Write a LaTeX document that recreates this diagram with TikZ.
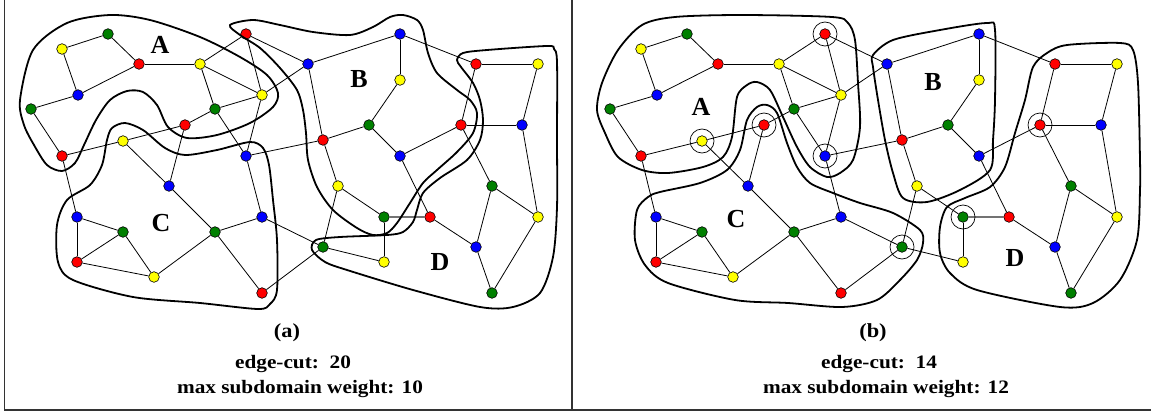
\documentclass[tikz,border=0pt]{standalone}
\usepackage{fontspec}
\setmainfont{Liberation Serif}
\setsansfont{Liberation Sans}
\definecolor{nR}{RGB}{255,0,0}
\definecolor{nY}{RGB}{255,255,0}
\definecolor{nG}{RGB}{0,128,0}
\definecolor{nB}{RGB}{0,0,255}
\tikzset{
  vtx/.style={circle,draw=black,line width=0.6pt,inner sep=0pt,minimum size=10.6pt},
  edge/.style={line width=0.8pt,black},
  grayedge/.style={line width=1.5pt,black!55},
  part/.style={line width=1.8pt,black},
  ring/.style={circle,draw=black,line width=0.7pt,inner sep=0pt,minimum size=24pt},
  plab/.style={font=\fontsize{26}{26}\selectfont\bfseries},
  captxt/.style={font=\fontsize{20}{20}\selectfont\bfseries,inner sep=0pt},
  capline/.style={font=\fontsize{19}{19}\selectfont\bfseries,inner sep=0pt},
  framestyle/.style={line width=1.3pt,black!80}
}
\newcommand\wide[1]{\scalebox{1.12}[1.0]{#1}}
\newcommand\mygraph[2]{%
  \foreach \n/\x/\y/\c in {a1/62/49/nY,a2/108/34/nG,a3/139/64/nR,a4/78/95/nB,a5/31/109/nG,
    a6/200/64/nY,a7/246/34/nR,a8/262/95/nY,a9/215/109/nG,a10/185/125/nR,a11/123/141/nY,
    a12/62/156/nR,a13/246/156/nB,b1/400/34/nB,b2/308/64/nB,b3/400/80/nY,b4/369/125/nG,
    b5/323/140/nR,b6/400/156/nB,b7/338/186/nY,b8/384/217/nG,c1/169/186/nB,c2/77/217/nB,
    c3/123/232/nG,c4/77/262/nR,c5/154/277/nY,c6/215/232/nG,c7/262/217/nB,c8/262/293/nR,
    d1/476/64/nR,d2/538/64/nY,d3/461/125/nR,d4/522/125/nB,d5/492/186/nG,d6/538/217/nY,
    d7/430/217/nR,d8/476/247/nB,d9/492/293/nG,d10/323/247/nG,d11/384/262/nY}
    {\node[vtx,fill=\c] (#1\n) at (\x+#2,\y) {};}
  \foreach \u/\v in {a1/a2,a2/a3,a1/a4,a3/a4,a4/a5,a3/a6,a5/a12,a6/a7,a6/a8,a6/a9,a7/a8,
    a7/b2,a8/b2,a8/a9,a9/a10,a9/a13,a8/a13,a12/a11,a11/a10,a10/c1,a11/c1,a12/c2,a13/b5,
    a13/c7,b2/b1,b2/b5,b1/b3,b1/d1,b3/b4,b4/b5,b4/b6,b6/d3,b5/b7,b7/b8,b7/d10,b6/d7,
    b8/d11,d10/d11,c7/d10,c8/d10,d1/d2,d1/d3,d2/d4,d3/d4,d3/d5,d4/d6,d5/d6,d5/d8,d7/d8,
    d8/d9,d6/d9,c1/c6,c2/c3,c2/c4,c3/c4,c3/c5,c4/c5,c5/c6,c6/c7,c6/c8}
    {\draw[edge] (#1\u) -- (#1\v);}
  \draw[grayedge] (#1b8) -- (#1d7);
}
\begin{document}
\begin{tikzpicture}[x=1pt,y=-1pt]
\useasboundingbox (0,0) rectangle (1151,412);
% frame
\coordinate (fTL) at (4.5,0);
\coordinate (fBL) at (4.5,410);
\coordinate (fBR) at (1151,410);
\coordinate (dT) at (572,0);
\coordinate (dB) at (572,410);
\draw[framestyle] (fTL) -- (fBL) -- (fBR);
\draw[framestyle] (dT) -- (dB);
% graphs
\mygraph{L}{0}
\mygraph{R}{579}
% left partition
\draw[part] plot[smooth cycle] coordinates {(20,100) (33,50) (67,23) (110,15) (150,20) (200,37)
  (240,57) (267,75) (278,93) (273,107) (250,123) (217,135) (187,138) (168,127) (157,105)
  (143,92) (127,91) (110,100) (96,120) (84,145) (75,163) (62,171) (47,165) (34,145) (24,125)};
\draw[part] plot[smooth cycle] coordinates {(107,140) (112,128) (125,123) (143,130) (165,148)
  (185,155) (217,150) (250,142) (263,148) (269,165) (273,200) (277,240) (277,290) (270,304)
  (258,309) (200,303) (133,297) (73,280) (58,262) (57,225) (67,200) (90,185) (102,165)};
\draw[part] plot[smooth cycle] coordinates {(230,25) (253,20) (280,25) (313,32) (350,35)
  (373,27) (390,17) (403,15) (417,20) (423,30) (428,53) (437,73) (457,90) (470,100)
  (477,113) (473,133) (457,152) (437,170) (423,183) (410,203) (397,223) (387,233) (373,235)
  (357,228) (333,210) (317,187) (308,160) (306,133) (303,110) (297,90) (280,68) (260,48) (240,35)};
\draw[part] plot[smooth cycle] coordinates {(457,60) (463,53) (487,50) (547,46) (554,49)
  (557,62) (557,140) (557,207) (553,257) (540,293) (513,307) (480,307) (413,290) (347,270)
  (325,262) (312,250) (316,240) (340,237) (387,235) (403,232) (413,222) (417,210) (423,193)
  (440,178) (467,160) (480,140) (483,120) (480,100) (473,83) (461,67)};
% right partition
\draw[part] plot[smooth cycle] coordinates {(642,25) (675,17) (742,15) (832,17) (848,23)
  (855,40) (858,83) (860,127) (853,160) (840,173) (827,177) (810,167) (797,147) (783,117)
  (770,90) (757,82) (747,85) (737,97) (732,137) (723,157) (703,167) (668,173) (642,170)
  (618,157) (605,133) (597,110) (602,83) (618,50)};
\draw[part] plot[smooth cycle] coordinates {(660,192) (700,183) (727,170) (740,150) (747,120)
  (757,107) (767,105) (777,113) (787,143) (797,167) (810,183) (833,193) (860,203) (893,213)
  (920,230) (923,243) (917,260) (900,280) (877,300) (842,307) (788,303) (735,300) (668,283)
  (645,265) (635,240) (637,210) (648,197)};
\draw[part] plot[smooth cycle] coordinates {(873,55) (893,40) (940,30) (987,23) (995,30)
  (995,100) (993,140) (990,170) (960,190) (927,202) (903,198) (893,173) (885,140) (878,100) (873,67)};
\draw[part] plot[smooth cycle] coordinates {(1033,67) (1047,53) (1067,45) (1120,43) (1133,50)
  (1138,83) (1140,160) (1140,190) (1137,240) (1120,280) (1093,303) (1060,307) (977,290)
  (950,273) (940,253) (940,227) (947,207) (965,198) (990,187) (1005,167) (1015,133) (1025,100)};
% rings (b)
\foreach \n in {a7,a11,a10,a13,d3,b8,d10} {\node[ring] (ring\n) at (R\n) {};}
% labels
\node[plab] (lA) at (160,45) {A};
\node[plab] (lB) at (359,79) {B};
\node[plab] (lC) at (161,223) {C};
\node[plab] (lD) at (440,262) {D};
\node[plab] (rA) at (701,107) {A};
\node[plab] (rB) at (933,82) {B};
\node[plab] (rC) at (736,219) {C};
\node[plab] (rD) at (1015,258) {D};
% captions
\node[captxt] (capa) at (287,333) {\wide{(a)}};
\node[capline] (ecA) at (293,364.5) {\wide{edge-cut:\ \ 20}};
\node[capline] (mwA) at (300,389.5) {\wide{max subdomain weight: 10}};
\node[captxt] (capb) at (873,333) {\wide{(b)}};
\node[capline] (ecB) at (879,364.5) {\wide{edge-cut:\ \ 14}};
\node[capline] (mwB) at (886,389.5) {\wide{max subdomain weight: 12}};
\end{tikzpicture}
\end{document}
